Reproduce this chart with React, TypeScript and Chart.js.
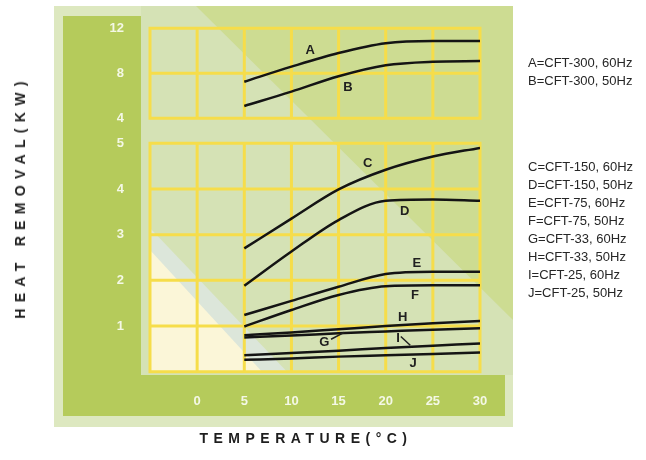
import React, { useEffect, useRef } from 'react';
import { Chart, registerables } from 'chart.js';

Chart.register(...registerables);

// ---- data ----
const temps = [5, 10, 15, 20, 25, 30];
const serA = [7.25, 8.59, 9.8, 10.67, 10.87, 10.87];
const serB = [5.09, 6.37, 7.74, 8.72, 9.03, 9.09];
const serC = [2.7, 3.35, 3.99, 4.42, 4.71, 4.9];
const serD = [1.88, 2.63, 3.32, 3.74, 3.77, 3.74];
const serE = [1.24, 1.55, 1.86, 2.14, 2.19, 2.19];
const serF = [0.99, 1.35, 1.68, 1.87, 1.89, 1.89];
const serG = [0.75, 0.79, 0.84, 0.88, 0.92, 0.95];
const serH = [0.8, 0.86, 0.93, 1.0, 1.06, 1.11];
const serI = [0.36, 0.41, 0.46, 0.52, 0.57, 0.62];
const serJ = [0.26, 0.29, 0.33, 0.36, 0.39, 0.42];

const upperSeries: [string, number[]][] = [['A', serA], ['B', serB]];
const lowerSeries: [string, number[]][] = [
  ['C', serC], ['D', serD], ['E', serE], ['F', serF], ['G', serG],
  ['H', serH], ['I', serI], ['J', serJ],
];

const xMin = -5;
const xMax = 30;
const xStep = 5;
const upperMin = 4;
const upperMax = 12;
const upperStep = 4;
const lowerMin = 0;
const lowerMax = 5;
const lowerStep = 1;

const legendUpper = ['A=CFT-300, 60Hz', 'B=CFT-300, 50Hz'];
const legendLower = [
  'C=CFT-150, 60Hz', 'D=CFT-150, 50Hz', 'E=CFT-75, 60Hz', 'F=CFT-75, 50Hz',
  'G=CFT-33, 60Hz', 'H=CFT-33, 50Hz', 'I=CFT-25, 60Hz', 'J=CFT-25, 50Hz',
];

// curve tags (data coordinates)
const tagLetters = ['A', 'B', 'C', 'D', 'E', 'F', 'G', 'H', 'I', 'J'];
const tagTemps = [12, 16, 18.1, 22, 23.3, 23.1, 13.5, 21.8, 21.3, 22.9];
const tagValues = [10.0, 6.78, 4.55, 3.5, 2.38, 1.66, 0.65, 1.18, 0.72, 0.19];
const tagPanels = ['up', 'up', 'lo', 'lo', 'lo', 'lo', 'lo', 'lo', 'lo', 'lo'];
// leader strokes for G and I (data coordinates, lower panel)
const leaderG = [[14.2, 0.71], [15.6, 0.86]];
const leaderI = [[21.6, 0.77], [22.6, 0.58]];

const xTitle = 'TEMPERATURE(°C)';
const yTitle = 'HEAT REMOVAL(KW)';

const GRID = '#f6dd4a';
const LINE = '#141414';

const bgPlugin = {
  id: 'bgPlugin',
  beforeDraw(chart: any) {
    const ctx = chart.ctx;
    ctx.save();
    // outer pale frame
    ctx.fillStyle = '#dde8c0';
    ctx.fillRect(54, 6, 459, 421);
    // plot background
    ctx.save();
    ctx.beginPath();
    ctx.rect(54, 6, 459, 421);
    ctx.clip();
    ctx.fillStyle = '#d5e2b5';
    ctx.fillRect(141, 6, 372, 369);
    // darker upper-right triangle
    ctx.fillStyle = '#cddc92';
    ctx.beginPath();
    ctx.moveTo(196, 6);
    ctx.lineTo(513, 6);
    ctx.lineTo(513, 320);
    ctx.closePath();
    ctx.fill();
    ctx.restore();
    // lower-left cream + bluish band inside grid
    const a = chart.chartArea;
    ctx.save();
    ctx.beginPath();
    ctx.rect(a.left, 140, a.right - a.left, a.bottom - 140);
    ctx.clip();
    ctx.fillStyle = '#dce6da';
    ctx.beginPath();
    ctx.moveTo(a.left, 228);
    ctx.lineTo(a.left + 137, a.bottom);
    ctx.lineTo(a.left, a.bottom);
    ctx.closePath();
    ctx.fill();
    ctx.fillStyle = '#fbf6d8';
    ctx.beginPath();
    ctx.moveTo(a.left, 250);
    ctx.lineTo(a.left + 112, a.bottom);
    ctx.lineTo(a.left, a.bottom);
    ctx.closePath();
    ctx.fill();
    ctx.restore();
    // dark green L
    ctx.fillStyle = '#b5cb5b';
    ctx.fillRect(63, 16, 78, 400);
    ctx.fillRect(63, 375, 442, 41);
    ctx.restore();
  },
  beforeDatasetsDraw(chart: any) {
    const ctx = chart.ctx;
    const sx = chart.scales.x;
    const panels = [
      { s: chart.scales.yUp, min: upperMin, max: upperMax, step: upperStep },
      { s: chart.scales.yLo, min: lowerMin, max: lowerMax, step: lowerStep },
    ];
    ctx.save();
    ctx.strokeStyle = GRID;
    ctx.lineWidth = 3;
    ctx.lineCap = 'square';
    for (const p of panels) {
      const top = p.s.getPixelForValue(p.max);
      const bot = p.s.getPixelForValue(p.min);
      const left = sx.getPixelForValue(xMin);
      const right = sx.getPixelForValue(xMax);
      ctx.beginPath();
      for (let v = xMin; v <= xMax; v += xStep) {
        const px = sx.getPixelForValue(v);
        ctx.moveTo(px, top);
        ctx.lineTo(px, bot);
      }
      for (let v = p.min; v <= p.max; v += p.step) {
        const py = p.s.getPixelForValue(v);
        ctx.moveTo(left, py);
        ctx.lineTo(right, py);
      }
      ctx.stroke();
    }
    ctx.restore();
  },
  afterDatasetsDraw(chart: any) {
    const ctx = chart.ctx;
    const sx = chart.scales.x;
    ctx.save();
    ctx.fillStyle = '#202020';
    ctx.font = 'bold 13px "Liberation Sans", Arial, sans-serif';
    ctx.textAlign = 'center';
    ctx.textBaseline = 'middle';
    tagLetters.forEach((t, i) => {
      const sy = tagPanels[i] === 'up' ? chart.scales.yUp : chart.scales.yLo;
      ctx.fillText(t, sx.getPixelForValue(tagTemps[i]), sy.getPixelForValue(tagValues[i]));
    });
    const sy = chart.scales.yLo;
    ctx.strokeStyle = '#202020';
    ctx.lineWidth = 1.5;
    for (const l of [leaderG, leaderI]) {
      ctx.beginPath();
      ctx.moveTo(sx.getPixelForValue(l[0][0]), sy.getPixelForValue(l[0][1]));
      ctx.lineTo(sx.getPixelForValue(l[1][0]), sy.getPixelForValue(l[1][1]));
      ctx.stroke();
    }
    ctx.restore();
  },
};

export default function App() {
  const ref = useRef<HTMLCanvasElement | null>(null);

  useEffect(() => {
    if (!ref.current) return;
    const mk = (s: [string, number[]], axis: string) => ({
      label: s[0],
      data: temps.map((t, i) => ({ x: t, y: s[1][i] })),
      yAxisID: axis,
      borderColor: LINE,
      borderWidth: 2.5,
      pointRadius: 0,
      fill: false,
      cubicInterpolationMode: 'monotone' as const,
    });
    const tickFont = { family: '"Liberation Sans", Arial, sans-serif', size: 13, weight: 'bold' as const };
    const chart = new Chart(ref.current, {
      type: 'line',
      data: {
        datasets: [
          ...upperSeries.map((s) => mk(s, 'yUp')),
          ...lowerSeries.map((s) => mk(s, 'yLo')),
        ],
      },
      options: {
        animation: false,
        responsive: false,
        devicePixelRatio: 1,
        layout: { padding: { left: 100, right: 166, top: 28.3, bottom: 0 } },
        plugins: { legend: { display: false }, tooltip: { enabled: false } },
        scales: {
          x: {
            type: 'linear',
            position: 'bottom',
            min: xMin,
            max: xMax,
            grid: { display: false },
            border: { display: false },
            ticks: {
              stepSize: xStep,
              color: '#f4f8e6',
              font: tickFont,
              padding: 14,
              callback: (v: any) => (v === xMin ? '' : String(v)),
            },
            afterFit: (s: any) => { s.height = 88.3; },
          },
          yLo: {
            type: 'linear',
            position: 'left',
            stack: 'v',
            stackWeight: 228.4,
            min: lowerMin,
            max: lowerMax,
            grid: { display: false },
            border: { display: false },
            ticks: {
              stepSize: lowerStep,
              color: '#f4f8e6',
              font: tickFont,
              padding: 18,
              callback: (v: any) => (v === lowerMin ? '' : String(v)),
            },
            afterFit: (s: any) => { s.width = 50; },
          },
          yGap: {
            type: 'linear',
            position: 'left',
            stack: 'v',
            stackWeight: 25,
            display: false,
            afterFit: (s: any) => { s.width = 50; },
          },
          yUp: {
            type: 'linear',
            position: 'left',
            stack: 'v',
            stackWeight: 90,
            min: upperMin,
            max: upperMax,
            grid: { display: false },
            border: { display: false },
            ticks: {
              stepSize: upperStep,
              color: '#f4f8e6',
              font: tickFont,
              padding: 18,
            },
            afterFit: (s: any) => { s.width = 50; },
          },
        },
      } as any,
      plugins: [bgPlugin],
    });
    return () => chart.destroy();
  }, []);

  const legendStyle: React.CSSProperties = {
    position: 'absolute',
    left: 528,
    font: '13px "Liberation Sans", Arial, sans-serif',
    color: '#262626',
    lineHeight: '16px',
    whiteSpace: 'nowrap',
  };
  const upperTops = [63, 81];
  const lowerTops = [167, 185, 203, 221, 239, 257, 275, 293];

  return (
    <div style={{ position: 'fixed', left: 0, top: 0, width: 646, height: 460, background: '#ffffff', overflow: 'hidden' }}>
      <canvas ref={ref} width={646} height={460} style={{ position: 'absolute', left: 0, top: 0, width: 646, height: 460 }} />
      {legendUpper.map((t, i) => (
        <div key={t} style={{ ...legendStyle, top: upperTops[i] - 8 }}>{t}</div>
      ))}
      {legendLower.map((t, i) => (
        <div key={t} style={{ ...legendStyle, top: lowerTops[i] - 8 }}>{t}</div>
      ))}
      <div
        style={{
          position: 'absolute',
          left: 20,
          top: 197,
          transform: 'translate(-50%, -50%) rotate(-90deg)',
          font: 'bold 14px "Liberation Sans", Arial, sans-serif',
          letterSpacing: '6.3px',
          color: '#1e1e1e',
          whiteSpace: 'nowrap',
        }}
      >
        {yTitle}
      </div>
      <div
        style={{
          position: 'absolute',
          left: 306,
          top: 438,
          transform: 'translate(-50%, -50%)',
          font: 'bold 14px "Liberation Sans", Arial, sans-serif',
          letterSpacing: '5.5px',
          color: '#1e1e1e',
          whiteSpace: 'nowrap',
        }}
      >
        {xTitle}
      </div>
    </div>
  );
}
